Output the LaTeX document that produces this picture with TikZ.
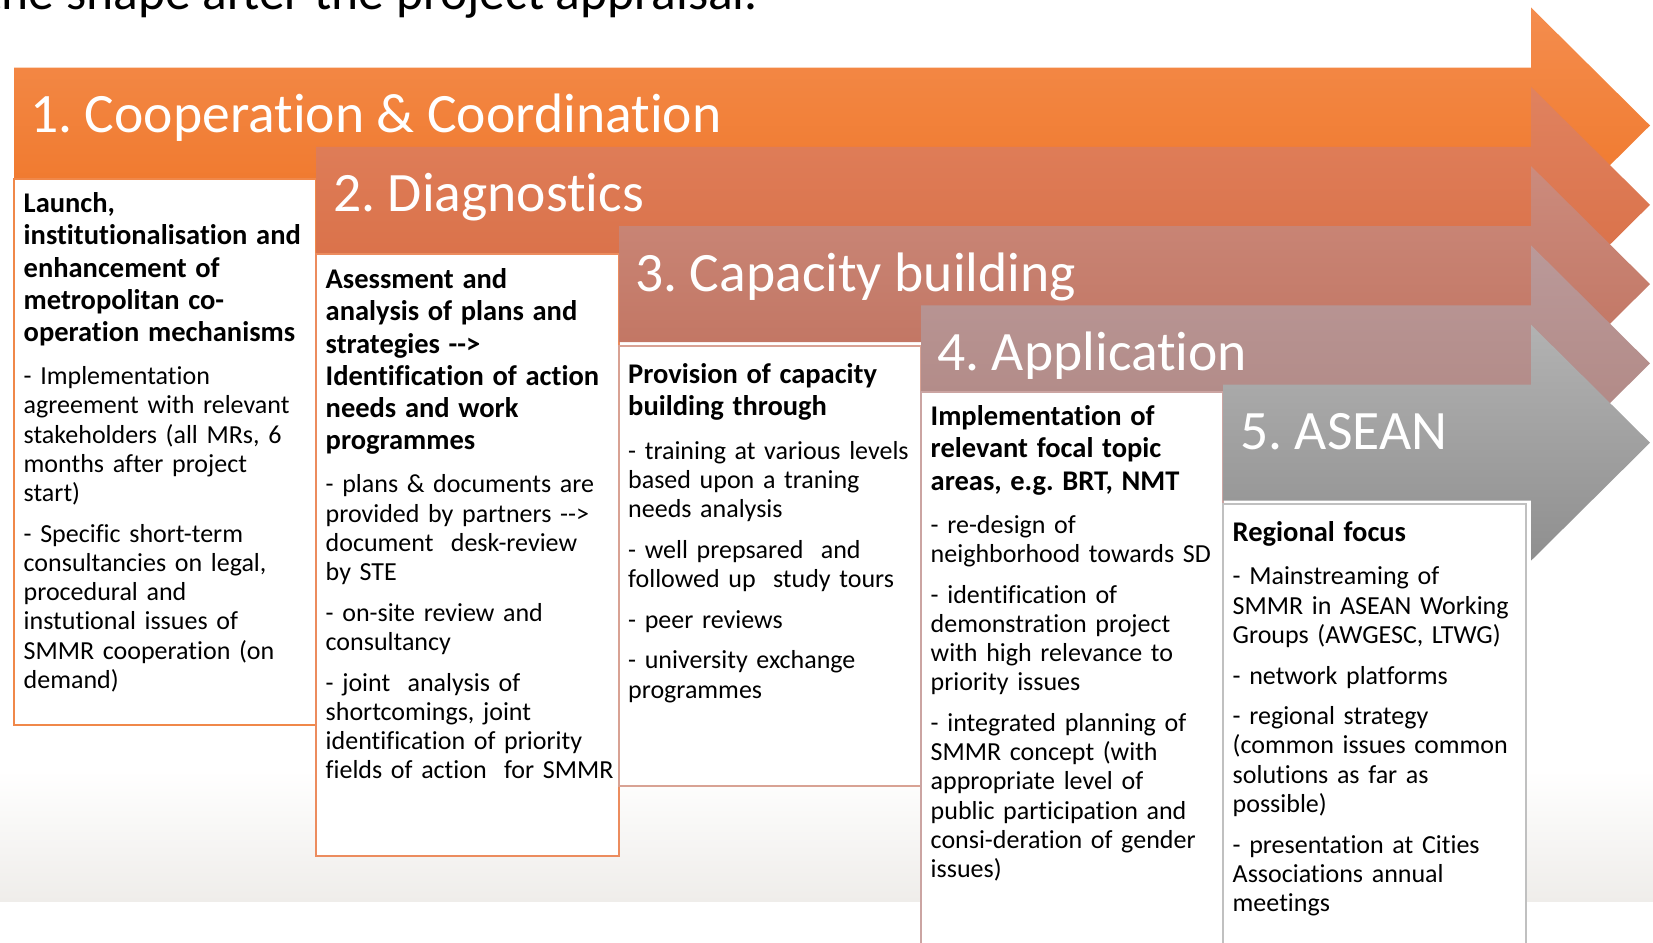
\documentclass[tikz,border=0pt]{standalone}
\usepackage{fontspec}
\setmainfont{Carlito}[Ligatures={TeX,NoCommon}]
\frenchspacing

\definecolor{coopTop}{HTML}{F48D4E}
\definecolor{coopBot}{HTML}{EF7425}
\definecolor{diagTop}{HTML}{E0825F}
\definecolor{diagBot}{HTML}{D86C42}
\definecolor{capTop}{HTML}{CB8B7D}
\definecolor{capBot}{HTML}{C0705C}
\definecolor{appTop}{HTML}{BA9999}
\definecolor{appBot}{HTML}{AF847F}
\definecolor{aseanTop}{HTML}{B2B2B2}
\definecolor{aseanBot}{HTML}{8F8F8F}
\definecolor{coopLine}{HTML}{F0884A}
\definecolor{diagLine}{HTML}{EC8C5E}
\definecolor{capLine}{HTML}{D8A294}
\definecolor{appLine}{HTML}{CBA4A2}
\definecolor{aseanLine}{HTML}{C0C0C0}
\definecolor{floorband}{HTML}{EFEDEA}

\newcommand{\headfont}{\fontsize{28.5}{32.2}\selectfont\bfseries}
\newcommand{\bodyfont}{\fontsize{26}{29.2}\selectfont}
\newcommand{\phasefont}{\fontsize{55.6}{66}\selectfont}
\newcommand{\headgap}{\par\vspace{14pt}}
\newcommand{\paragap}{\par\vspace{11.5pt}}

\tikzset{
    phasename/.style={anchor=base west, text=white, font=\phasefont, inner sep=0pt},
    boxtext/.style={anchor=north west, text width=300pt, align=left, inner sep=0pt, font=\bodyfont},
    card/.style={fill=white, line width=2pt},
}

\begin{document}
\begin{tikzpicture}[x=1pt,y=-1pt]
        \useasboundingbox (0,0) rectangle (1653,942);
        \clip (0,0) rectangle (1653,942);

        \shade[top color=white, bottom color=floorband] (0,770) rectangle (1653,901);

        \node[anchor=base east, font=\fontsize{51.5}{62}\selectfont, inner sep=0pt] (intro) at (758,10) {the shape after the project appraisal.};

		\shade[top color=coopTop, bottom color=coopBot] (14,67.5) -- (1531,67.5) -- (1531,7.5) -- (1650,125.5) -- (1531,243.5) -- (1531,183.5) -- (14,183.5) -- cycle;
		\node[phasename] (coop) at (30,132.5) {1. Cooperation \& Coordination};
		\draw[card, draw=coopLine] (14,179) rectangle (316,725);

		\shade[top color=diagTop, bottom color=diagBot] (316,146.8) -- (1531,146.8) -- (1531,86.8) -- (1650,204.8) -- (1531,322.8) -- (1531,262.8) -- (316,262.8) -- cycle;
		\node[phasename] (diag) at (333,211.8) {2. Diagnostics};
		\draw[card, draw=diagLine] (316,254) rectangle (619,856);

		\shade[top color=capTop, bottom color=capBot] (619,226.1) -- (1531,226.1) -- (1531,166.1) -- (1650,284.1) -- (1531,402.1) -- (1531,342.1) -- (619,342.1) -- cycle;
		\node[phasename] (capac) at (635,291.1) {3. Capacity building};
		\draw[card, draw=capLine] (619,346) rectangle (921,786);

		\shade[top color=appTop, bottom color=appBot] (921,305.4) -- (1531,305.4) -- (1531,245.4) -- (1650,363.4) -- (1531,481.4) -- (1531,421.4) -- (921,421.4) -- cycle;
		\node[phasename] (applic) at (937,370.4) {4. Application};
		\draw[card, draw=appLine] (921,392) rectangle (1223,960);

		\shade[top color=aseanTop, bottom color=aseanBot] (1223,384.7) -- (1531,384.7) -- (1531,324.7) -- (1650,442.7) -- (1531,560.7) -- (1531,500.7) -- (1223,500.7) -- cycle;
		\node[phasename] (asean) at (1240,449.7) {5. ASEAN};
		\draw[card, draw=aseanLine] (1223,504) rectangle (1525.5,960);

		\node[boxtext] (launch) at (23.5,192.5) {{\headfont Launch,\\ institutionalisation and\\ enhancement of\\ metropolitan co-\\ operation mechanisms\par}\headgap
		- Implementation\\ agreement with relevant\\ stakeholders (all MRs, 6\\ months after project\\ start)\paragap
		- Specific short-term\\ consultancies on legal,\\ procedural and\\ instutional issues of\\ SMMR cooperation (on\\ demand)};

		\node[boxtext] (assess) at (325.5,268.5) {{\headfont Asessment and\\ analysis of plans and\\ strategies -{}->\\ Identification of action\\ needs and work\\ programmes\par}\headgap
		- plans \& documents are\\ provided by partners -{}->\\ document\ \ desk-review\\ by STE\paragap
		- on-site review and\\ consultancy\paragap
		- joint\ \ analysis of\\ shortcomings, joint\\ identification of priority\\ fields of action\ \ for SMMR};

		\node[boxtext] (provision) at (628,363.5) {{\headfont Provision of capacity\\ building through\par}\headgap
		- training at various levels\\ based upon a traning\\ needs analysis\paragap
		- well prepsared\ \ and\\ followed up\ \ study tours\paragap
		- peer reviews\paragap
		- university exchange\\ programmes};

		\node[boxtext] (implement) at (930.5,405.5) {{\headfont Implementation of\\ relevant focal topic\\ areas, e.g. BRT, NMT\par}\headgap
		- re-design of\\ neighborhood towards SD\paragap
		- identification of\\ demonstration project\\ with high relevance to\\ priority issues\paragap
		- integrated planning of\\ SMMR concept (with\\ appropriate level of\\ public participation and\\ consi-deration of gender\\ issues)};

		\node[boxtext] (regional) at (1232.5,521.5) {{\headfont Regional focus\par}\headgap
		- Mainstreaming of\\ SMMR in ASEAN Working\\ Groups (AWGESC, LTWG)\paragap
		- network platforms\paragap
		- regional strategy\\ (common issues common\\ solutions as far as\\ possible)\paragap
		- presentation at Cities\\ Associations annual\\ meetings};
    \end{tikzpicture}
\end{document}
